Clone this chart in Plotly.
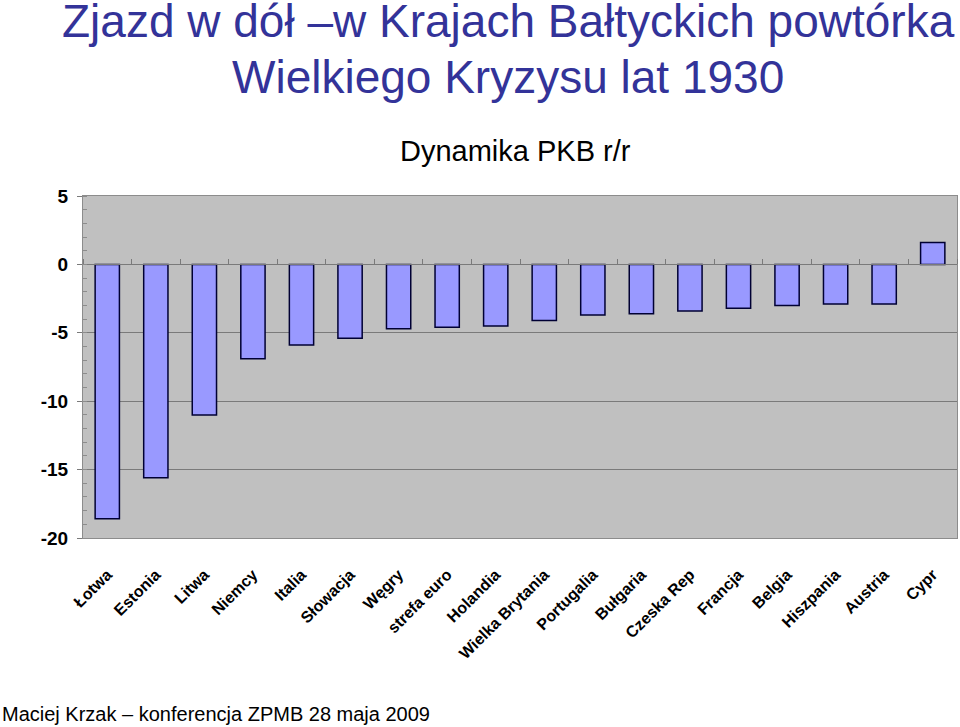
import plotly.graph_objects as go

categories = ["Łotwa", "Estonia", "Litwa", "Niemcy", "Italia", "Słowacja", "Węgry",
              "strefa euro", "Holandia", "Wielka Brytania", "Portugalia", "Bułgaria",
              "Czeska Rep", "Francja", "Belgia", "Hiszpania", "Austria", "Cypr"]
gdp_yoy = [-18.6, -15.6, -11.0, -6.9, -5.9, -5.4, -4.7, -4.6, -4.5, -4.1, -3.7, -3.6,
           -3.4, -3.2, -3.0, -2.9, -2.9, 1.6]
y_ticks = [5, 0, -5, -10, -15, -20]

title_line1 = "Zjazd w dół –w Krajach Bałtyckich powtórka"
title_line2 = "Wielkiego Kryzysu lat 1930"
subtitle = "Dynamika PKB r/r"
footer = "Maciej Krzak – konferencja ZPMB 28 maja 2009"

W, H = 960, 727
L, R, T, B = 83, 3, 196, 189
y_min, y_max = -20, 5
plot_w = W - L - R
zero_pos = (0 - y_min) / (y_max - y_min)  # paper fraction of the zero line


def px_to_paper_x(px):
    return (px - L) / plot_w


sans = "Liberation Sans, Arial, Helvetica, sans-serif"
title_font = dict(family=sans, size=46, color="#333399")

fig = go.Figure()
fig.add_trace(go.Bar(
    x=categories, y=gdp_yoy, width=0.5,
    marker=dict(color="#9999FF", line=dict(color="#000033", width=1.5)),
    hoverinfo="x+y", showlegend=False,
))
# invisible helper trace carrying the zero-line category axis (ticks between categories)
fig.add_trace(go.Scatter(
    x=categories, y=gdp_yoy, xaxis="x2", mode="markers",
    marker=dict(opacity=0), hoverinfo="skip", showlegend=False,
))

fig.update_layout(
    width=W, height=H,
    margin=dict(l=L, r=R, t=T, b=B, pad=0),
    paper_bgcolor="white",
    plot_bgcolor="#C0C0C0",
    font=dict(family=sans, color="black"),
    xaxis=dict(
        type="category", categoryarray=categories, range=[-0.5, len(categories) - 0.5],
        showgrid=False, zeroline=False, showline=True, linecolor="#8C8C8C", linewidth=1,
        mirror=True, ticks="", tickangle=-45,
        tickfont=dict(family=sans, size=16, color="black", weight="bold"),
        ticklabelstandoff=20,
    ),
    xaxis2=dict(
        type="category", categoryarray=categories, range=[-0.5, len(categories) - 0.5],
        overlaying="x", anchor="free", side="top", position=zero_pos,
        showgrid=False, zeroline=False, showline=True, linecolor="#7A7A7A", linewidth=1,
        ticks="outside", ticklen=5, tickcolor="#7A7A7A", tickson="boundaries",
        showticklabels=False,
    ),
    yaxis=dict(
        range=[y_min, y_max], tickvals=y_ticks, ticktext=[str(v) for v in y_ticks],
        showgrid=True, gridcolor="#7A7A7A", gridwidth=1,
        zeroline=False, showline=True, linecolor="#8C8C8C", linewidth=1, mirror=True,
        ticks="outside", ticklen=5, tickcolor="#7A7A7A",
        minor=dict(dtick=1, ticks="inside", ticklen=4, tickcolor="#8C8C8C", showgrid=False),
        tickfont=dict(family=sans, size=19, color="black", weight="bold"),
        ticklabelstandoff=5,
    ),
    annotations=[
        dict(text=title_line1, x=px_to_paper_x(508), y=1.0,
             xref="paper", yref="paper", xanchor="center", yanchor="middle", showarrow=False,
             yshift=T - 21, font=title_font),
        dict(text=title_line2, x=px_to_paper_x(508), y=1.0,
             xref="paper", yref="paper", xanchor="center", yanchor="middle", showarrow=False,
             yshift=T - 77, font=title_font),
        dict(text=subtitle, x=px_to_paper_x(515), y=1.0, xref="paper", yref="paper",
             xanchor="center", yanchor="bottom", showarrow=False, yshift=27,
             font=dict(family=sans, size=29, color="black")),
        dict(text=footer, x=0, y=0, xref="paper", yref="paper",
             xanchor="left", yanchor="bottom", showarrow=False, xshift=-L, yshift=-B,
             font=dict(family=sans, size=20, color="black")),
    ],
)

fig.write_html("out.html")
